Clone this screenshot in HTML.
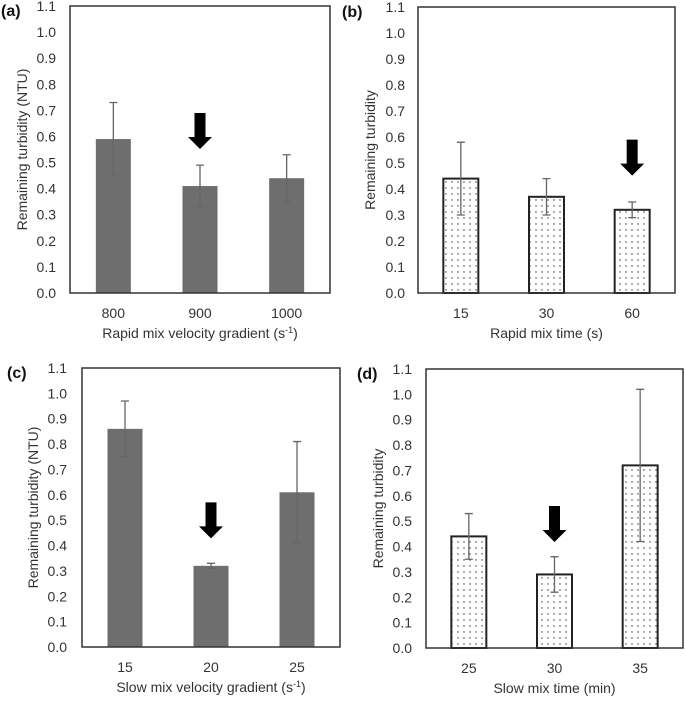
<!DOCTYPE html>
<html><head><meta charset="utf-8"><style>
body{margin:0;background:#fff;width:685px;height:697px;overflow:hidden;font-family:"Liberation Sans",sans-serif}
svg text{font-family:"Liberation Sans",sans-serif;fill:#333}
</style></head><body>
<svg id="c" width="685" height="697">
<defs><pattern id="dots" width="6" height="6" patternUnits="userSpaceOnUse"><rect width="6" height="6" fill="#fff"/><circle cx="2" cy="2" r="0.7" fill="#333"/></pattern></defs>
</svg>
<script>
const catsA=["800","900","1000"], valsA=[0.59,0.41,0.44], loA=[0.45,0.33,0.35], hiA=[0.73,0.49,0.53];
const catsB=["15","30","60"], valsB=[0.44,0.37,0.32], loB=[0.30,0.30,0.29], hiB=[0.58,0.44,0.35];
const catsC=["15","20","25"], valsC=[0.86,0.32,0.61], loC=[0.75,0.31,0.41], hiC=[0.97,0.33,0.81];
const catsD=["25","30","35"], valsD=[0.44,0.29,0.72], loD=[0.35,0.22,0.42], hiD=[0.53,0.36,1.02];
const ticks=["0.0","0.1","0.2","0.3","0.4","0.5","0.6","0.7","0.8","0.9","1.0","1.1"];
const arrowIdx=[1,2,1,1], arrowTop=[0.69,0.59,0.57,0.56];
const svg=document.getElementById('c');const NS="http://www.w3.org/2000/svg";
function mk(t,a,p){const e=document.createElementNS(NS,t);for(const k in a)e.setAttribute(k,a[k]);(p||svg).appendChild(e);return e;}
function panel(o){
 const g=mk('g',{});
 
 
 const y=v=>o.b-(o.b-o.t)*v/1.1;
 const cw=(o.r-o.l)/3;const x=i=>o.l+cw*(i+0.5);
 ticks.forEach((t,i)=>{const tx=mk('text',{x:o.tr,y:y(parseFloat(t))+5,'text-anchor':'end','font-size':14},g);tx.textContent=t;
  });
 o.vals.forEach((v,i)=>{const bw=35;
  const r=mk('rect',{x:x(i)-bw/2,y:y(v),width:bw,height:o.b-y(v),fill:o.pat?'url(#dots)':'#6e6e6e',stroke:o.pat?'#222':'none','stroke-width':2},g);
  
  const e=mk('path',{d:`M${x(i)} ${y(o.lo[i])}V${y(o.hi[i])}M${x(i)-4} ${y(o.lo[i])}H${x(i)+4}M${x(i)-4} ${y(o.hi[i])}H${x(i)+4}`,stroke:'#666','stroke-width':1.3,fill:'none'},g);
  
  const l=mk('text',{x:x(i),y:o.b+25,'text-anchor':'middle','font-size':14},g);l.textContent=o.cats[i];
  });
 const fr=mk('rect',{x:o.l,y:o.t,width:o.r-o.l,height:o.b-o.t,fill:'none',stroke:'#333','stroke-width':1.5},g);
 
 const ax=x(o.ai),at=y(o.at);
 const ar=mk('path',{d:`M${ax-5.5} ${at}H${ax+5.5}V${at+24}H${ax+12}L${ax} ${at+36}L${ax-12} ${at+24}H${ax-5.5}Z`,fill:'#000'},g);
 
 const yt=mk('text',{x:0,y:0,transform:`translate(${o.yx},${(o.t+o.b)/2}) rotate(-90)`,'text-anchor':'middle','font-size':14},g);yt.textContent=o.ytitle;
 
 const xt=mk('text',{x:(o.l+o.r)/2,y:o.b+45,'text-anchor':'middle','font-size':14},g);xt.innerHTML=o.xtitle;
 
 const pl=mk('text',{x:o.px,y:o.t+10,'font-size':16,'font-weight':'bold',style:'fill:#111'},g);pl.textContent='('+o.id+')';
 
}
panel({id:'a',l:70,r:330,t:6,b:293,tr:56,yx:27,px:1,cats:catsA,vals:valsA,lo:loA,hi:hiA,ai:arrowIdx[0],at:arrowTop[0],pat:false,ytitle:'Remaining turbidity (NTU)',xtitle:'Rapid mix velocity gradient (s<tspan dy="-5" font-size="9">-1</tspan><tspan dy="5">)</tspan>'});
panel({id:'b',l:418,r:675,t:7,b:293,tr:405,yx:375,px:342,cats:catsB,vals:valsB,lo:loB,hi:hiB,ai:arrowIdx[1],at:arrowTop[1],pat:true,ytitle:'Remaining turbidity',xtitle:'Rapid mix time (s)'});
panel({id:'c',l:82,r:340,t:368,b:647,tr:67,yx:38,px:7,cats:catsC,vals:valsC,lo:loC,hi:hiC,ai:arrowIdx[2],at:arrowTop[2],pat:false,ytitle:'Remaining turbidity (NTU)',xtitle:'Slow mix velocity gradient (s<tspan dy="-5" font-size="9">-1</tspan><tspan dy="5">)</tspan>'});
panel({id:'d',l:426,r:683,t:369,b:648,tr:412,yx:383,px:357,cats:catsD,vals:valsD,lo:loD,hi:hiD,ai:arrowIdx[3],at:arrowTop[3],pat:true,ytitle:'Remaining turbidity',xtitle:'Slow mix time (min)'});
</script>
</body></html>
